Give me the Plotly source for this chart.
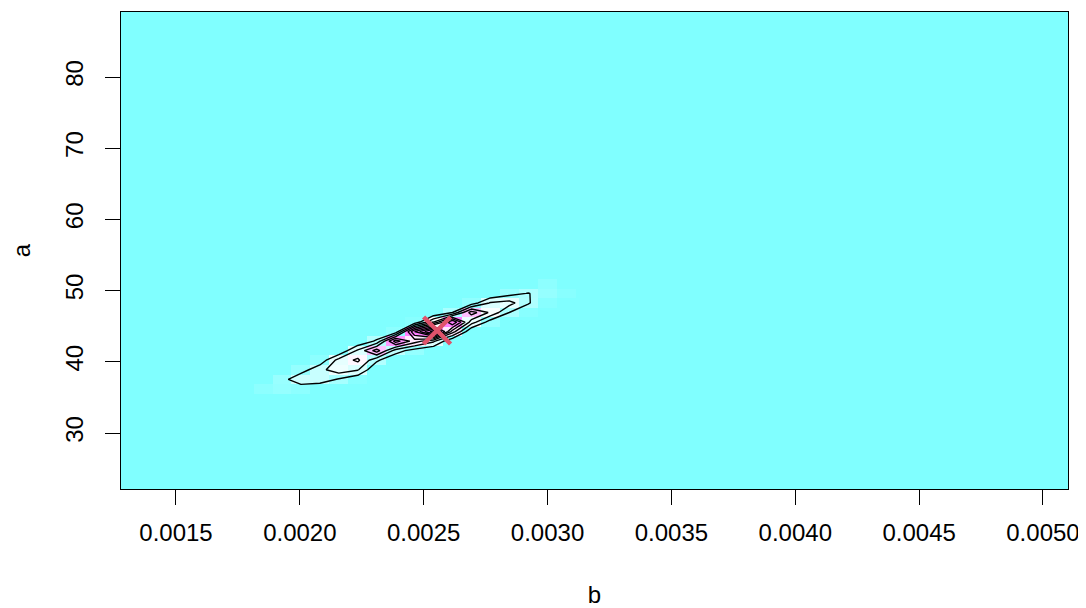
import numpy as np
import plotly.graph_objects as go

# grid extent (cell edges)
b_edges_range = [0.001278, 0.005101]
a_edges_range = [22.14, 89.13]
n_b = 50
n_a = 50

# non-zero block of the surface: columns are b-cells 7..23, each listing a-cells 9..21
block_i0 = 7
block_j0 = 9
z_block_cols = [
    [0, 0.03, 0,    0,    0,    0,    0,    0,    0,    0,    0,     0,     0],
    [0, 0.05, 0.06, 0,    0,    0,    0,    0,    0,    0,    0,     0,     0],
    [0, 0.03, 0.18, 0.05, 0,    0,    0,    0,    0,    0,    0,     0,     0],
    [0, 0,    0.17, 0.17, 0.03, 0,    0,    0,    0,    0,    0,     0,     0],
    [0, 0,    0.09, 0.26, 0.24, 0,    0,    0,    0,    0,    0,     0,     0],
    [0, 0,    0.02, 0.21, 0.32, 0.22, 0,    0,    0,    0,    0,     0,     0],
    [0, 0,    0,    0,    0.12, 0.45, 0.12, 0,    0,    0,    0,     0,     0],
    [0, 0,    0,    0,    0,    0.15, 0.55, 0.03, 0,    0,    0,     0,     0],
    [0, 0,    0,    0,    0,    0.05, 0.35, 0.60, 0.02, 0,    0,     0,     0],
    [0, 0,    0,    0,    0,    0,    0.22, 0.97, 0.30, 0,    0,     0,     0],
    [0, 0,    0,    0,    0,    0,    0,    0.35, 0.70, 0.10, 0,     0,     0],
    [0, 0,    0,    0,    0,    0,    0,    0,    0.25, 0.45, 0.04,  0,     0],
    [0, 0,    0,    0,    0,    0,    0,    0,    0.05, 0.28, 0.21,  0,     0],
    [0, 0,    0,    0,    0,    0,    0,    0,    0,    0.10, 0.24,  0.06,  0],
    [0, 0,    0,    0,    0,    0,    0,    0,    0,    0.02, 0.11,  0.105, 0],
    [0, 0,    0,    0,    0,    0,    0,    0,    0,    0,    0.02,  0.05,  0.03],
    [0, 0,    0,    0,    0,    0,    0,    0,    0,    0,    0,     0.02,  0],
]

contour_levels = [0.1, 0.9, 0.1]  # start, end, size

estimate_b = [0.002554]
estimate_a = [44.4]

x_ticks = [0.0015, 0.0020, 0.0025, 0.0030, 0.0035, 0.0040, 0.0045, 0.0050]
x_ticklabels = ["0.0015", "0.0020", "0.0025", "0.0030", "0.0035", "0.0040", "0.0045", "0.0050"]
y_ticks = [30, 40, 50, 60, 70, 80]

# ---- build grid ----
b_edges = np.linspace(b_edges_range[0], b_edges_range[1], n_b + 1)
a_edges = np.linspace(a_edges_range[0], a_edges_range[1], n_a + 1)
b_centers = (b_edges[:-1] + b_edges[1:]) / 2
a_centers = (a_edges[:-1] + a_edges[1:]) / 2

z = np.zeros((n_a, n_b))
blk = np.array(z_block_cols).T  # rows = a, cols = b
z[block_j0:block_j0 + blk.shape[0], block_i0:block_i0 + blk.shape[1]] = blk

cm_scale = [[0.0, "#80FFFF"], [0.5, "#FFFFFF"], [1.0, "#FF80FF"]]

font_family = "Liberation Sans, Arial, Helvetica, sans-serif"

fig = go.Figure()
fig.add_trace(go.Heatmap(
    x=b_centers, y=a_centers, z=z,
    colorscale=cm_scale, zmin=0, zmax=0.6,
    showscale=False, zsmooth=False, hoverinfo="skip",
))
fig.add_trace(go.Contour(
    x=b_centers, y=a_centers, z=z,
    contours=dict(start=contour_levels[0], end=contour_levels[1], size=contour_levels[2],
                  coloring="none", showlabels=False),
    line=dict(color="black", width=1.4, smoothing=0),
    showscale=False, hoverinfo="skip",
))
fig.add_trace(go.Scatter(
    x=estimate_b, y=estimate_a, mode="markers",
    marker=dict(symbol="x-thin", size=27, line=dict(color="#DF536B", width=4.5)),
    hoverinfo="skip",
))

# page body has an 8px default margin, so the figure is sized to fit inside it
fig.update_layout(
    width=1078, height=600,
    margin=dict(l=113, r=18, t=4, b=119, autoexpand=False),
    paper_bgcolor="white", plot_bgcolor="#80FFFF",
    showlegend=False,
    font=dict(family=font_family, size=24, color="black"),
)
fig.update_xaxes(
    range=b_edges_range, tickvals=x_ticks, ticktext=x_ticklabels,
    ticks="outside", ticklen=15, tickwidth=1, tickcolor="black",
    showline=True, mirror=True, linecolor="black", linewidth=1,
    showgrid=False, zeroline=False, ticklabelstandoff=7,
    title=dict(text="b", standoff=42, font=dict(size=24)),
)
fig.update_yaxes(
    range=a_edges_range, tickvals=y_ticks,
    ticks="outside", ticklen=15, tickwidth=1, tickcolor="black", tickangle=-90,
    showline=True, mirror=True, linecolor="black", linewidth=1,
    showgrid=False, zeroline=False, ticklabelstandoff=12,
    title=dict(text="a", standoff=50, font=dict(size=24)),
)

fig.write_html("out.html")
